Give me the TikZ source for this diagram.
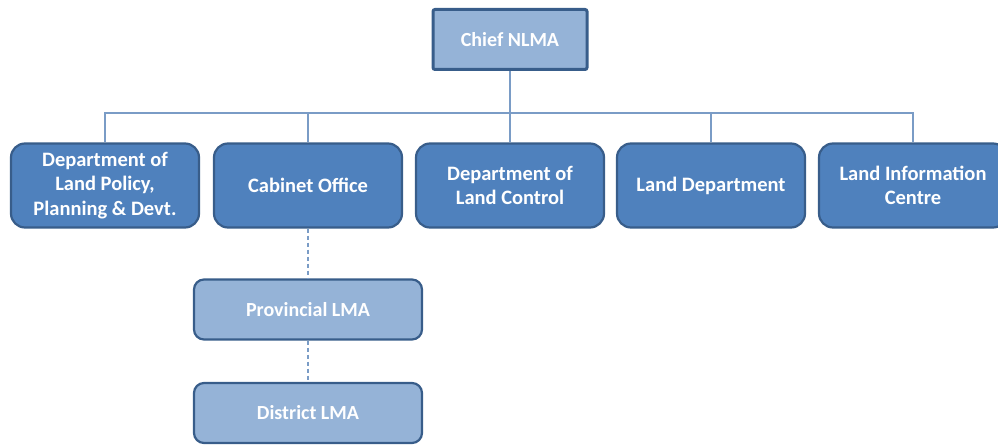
\documentclass[tikz,border=0pt]{standalone}
\usepackage{fontspec}
\setmainfont{Carlito}
\definecolor{darkfill}{HTML}{4F81BD}
\definecolor{lightfill}{HTML}{95B3D7}
\definecolor{edgec}{HTML}{385D8A}
\definecolor{linec}{HTML}{7A9CC6}
\begin{document}
\begin{tikzpicture}[x=1pt,y=-1pt,
  dept/.style={draw=edgec, line width=2.2pt, fill=darkfill, rounded corners=14pt,
    minimum width=188pt, minimum height=84pt, text=white, align=center,
    font=\bfseries\fontsize{20.5}{24.5}\selectfont, inner sep=2pt},
  sub/.style={draw=edgec, line width=2.2pt, fill=lightfill, rounded corners=10pt,
    minimum width=228pt, minimum height=60pt, text=white, align=center,
    font=\bfseries\fontsize{20}{24}\selectfont},
  chief/.style={draw=edgec, line width=3pt, fill=lightfill, rounded corners=2pt,
    minimum width=154pt, minimum height=60pt, text=white,
    font=\bfseries\fontsize{20}{24}\selectfont},
  conn/.style={draw=linec, line width=1.1pt},
  dconn/.style={draw=linec, line width=1.1pt, dash pattern=on 4pt off 3pt}]
\useasboundingbox (0,0) rectangle (998,446);
\node[chief] (chief) at (510,39.5) {Chief NLMA};
\node[dept] (d1) at (105,185.5) {Department of\\Land Policy,\\Planning \& Devt.};
\node[dept] (d2) at (308,185.5) {Cabinet Office};
\node[dept] (d3) at (510,185.5) {Department of\\Land Control};
\node[dept] (d4) at (711,185.5) {Land Department};
\node[dept] (d5) at (913,185.5) {Land Information\\Centre};
\node[sub] (p) at (308,309.5) {Provincial LMA};
\node[sub] (q) at (308,413) {District LMA};
\coordinate (bus) at (510,113);
\draw[conn] (chief.south) -- (bus);
\foreach \n in {d1,d2,d3,d4,d5}{
  \draw[conn] (bus) -| (\n.north);
}
\draw[dconn] (d2.south) -- (p.north);
\draw[dconn] (p.south) -- (q.north);
\end{tikzpicture}
\end{document}
